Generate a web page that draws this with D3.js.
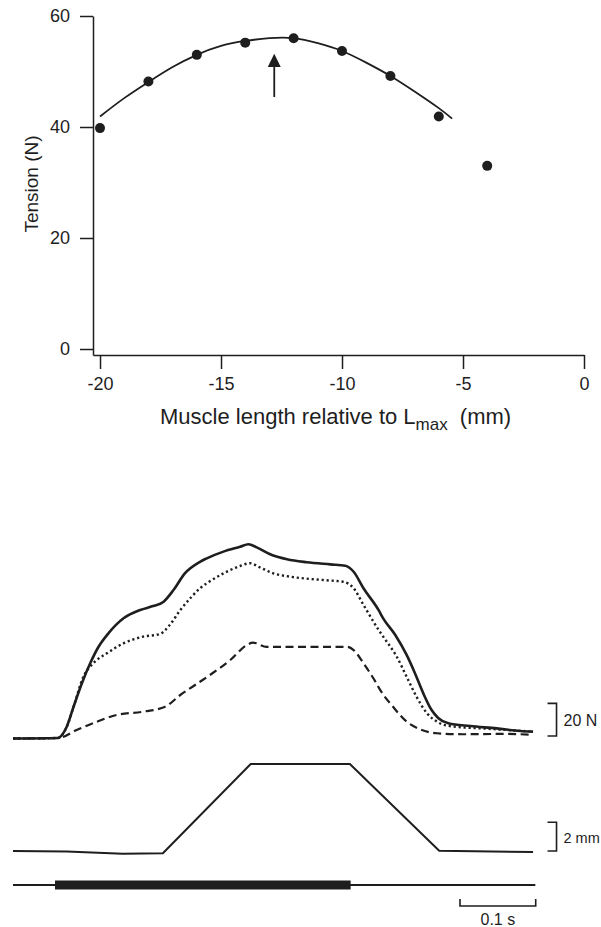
<!DOCTYPE html>
<html>
<head>
<meta charset="utf-8">
<script src="https://cdn.jsdelivr.net/npm/d3@7"></script>
<style>
  body { margin: 0; background: #fff; }
  svg { display: block; font-family: "Liberation Sans", Arial, sans-serif; }
</style>
</head>
<body>
<svg id="chart" width="601" height="927"></svg>
<script>
// top panel: length-tension points (mm, N)
var lengthPts = [-20, -18, -16, -14, -12, -10, -8, -6, -4];
var tensionPts = [39.8, 48.2, 53.0, 55.2, 56.0, 53.7, 49.2, 41.9, 33.0];
// fitted curve
var fitX = [-20, -19, -18, -17, -16, -15, -14, -13, -12, -11, -10, -9, -8, -7, -6, -5.45];
var fitY = [41.9, 45.2, 48.1, 50.8, 53.0, 54.6, 55.5, 56.0, 56.0, 55.1, 53.7, 51.6, 49.2, 46.4, 43.4, 41.5];
var optimumLength = -12.8;
var xTicks = [-20, -15, -10, -5, 0];
var yTicks = [0, 20, 40, 60];

// bottom panel: time in ms, force in N above resting level
var solidT = [0, 59, 71, 80, 91, 102, 113, 126, 146, 168, 185, 199, 212, 227, 247, 256, 278, 300, 311, 322, 342, 362, 388, 419, 439, 450, 463, 483, 489, 505, 520, 531, 542, 553, 562, 575, 604, 639, 670, 687];
var solidF = [0, 0.3, 7.2, 19.4, 33.8, 46.0, 56.1, 64.3, 73.5, 78.6, 81.0, 83.7, 90.8, 101.0, 108.1, 110.2, 114.3, 117.3, 118.8, 116.9, 112.2, 109.6, 107.8, 106.5, 105.7, 102.0, 91.9, 78.5, 73.5, 63.3, 51.1, 39.9, 27.6, 17.4, 12.4, 9.3, 7.6, 6.2, 4.6, 4.2];
var dottedT = [0, 59, 71, 80, 93, 106, 124, 146, 172, 194, 207, 221, 236, 247, 256, 278, 300, 313, 326, 344, 366, 410, 436, 450, 463, 483, 489, 507, 520, 533, 547, 560, 577, 626, 687];
var dottedF = [0, 0.3, 7.2, 19.4, 37.8, 46.0, 52.1, 58.2, 62.3, 63.9, 69.4, 78.6, 86.7, 91.9, 94.9, 101.0, 105.5, 107.2, 104.7, 101.0, 99.0, 96.9, 95.9, 91.9, 81.7, 66.4, 62.3, 50.0, 37.8, 25.6, 15.4, 10.3, 7.6, 6.0, 4.2];
var dashedT = [0, 60, 84, 111, 137, 172, 201, 221, 247, 260, 287, 309, 317, 335, 388, 441, 450, 463, 480, 485, 502, 520, 538, 560, 595, 648, 687];
var dashedF = [0, 0.3, 5.2, 10.3, 14.4, 16.4, 19.4, 26.6, 34.7, 38.8, 48.0, 57.2, 58.6, 56.1, 56.1, 56.1, 54.1, 46.0, 33.8, 29.7, 19.4, 10.3, 5.6, 3.2, 2.6, 2.8, 2.3];
// muscle length change (mm)
var lenT = [0, 71, 145, 198, 314, 445, 563, 687];
var lenMM = [0, -0.03, -0.19, -0.16, 6.06, 6.06, 0.02, -0.07];
// stimulation period (ms)
var stimOn = 55.5, stimOff = 446, traceEnd = 690;

var ink = "#1e1e1e";
var svg = d3.select("#chart");

// ---------- top panel ----------
var x = d3.scaleLinear().domain([-20.29, 0]).range([93, 584]);
var y = d3.scaleLinear().domain([-1.08, 60]).range([355, 16]);

var topPanel = svg.append("g");

function styleAxis(g) {
  g.attr("font-family", null).attr("font-size", null);
  g.selectAll("text").attr("font-size", 18).attr("fill", ink);
  g.selectAll("line,path").attr("stroke", ink).attr("stroke-width", 1.5);
}

topPanel.append("g")
  .attr("transform", "translate(0,355)")
  .call(d3.axisBottom(x).tickValues(xTicks).tickFormat(function(d) { return String(d); })
    .tickSize(14).tickSizeOuter(0).tickPadding(8))
  .call(styleAxis);

topPanel.append("g")
  .attr("transform", "translate(93,0)")
  .call(d3.axisLeft(y).tickValues(yTicks).tickSize(13).tickSizeOuter(0).tickPadding(10))
  .call(styleAxis);

var fitData = fitX.map(function(d, i) { return [d, fitY[i]]; });
topPanel.append("path")
  .datum(fitData)
  .attr("fill", "none")
  .attr("stroke", ink)
  .attr("stroke-width", 1.8)
  .attr("d", d3.line()
    .x(function(d) { return x(d[0]); })
    .y(function(d) { return y(d[1]); })
    .curve(d3.curveNatural));

topPanel.selectAll("circle.pt")
  .data(lengthPts)
  .enter().append("circle")
  .attr("class", "pt")
  .attr("cx", function(d) { return x(d); })
  .attr("cy", function(d, i) { return y(tensionPts[i]); })
  .attr("r", 5)
  .attr("fill", ink);

// arrow at optimum length
var ax = x(optimumLength);
topPanel.append("line")
  .attr("x1", ax).attr("x2", ax)
  .attr("y1", y(45.4)).attr("y2", y(50.8))
  .attr("stroke", ink).attr("stroke-width", 1.8);
topPanel.append("path")
  .attr("d", "M" + ax + "," + y(53.2) + "L" + (ax - 6.5) + "," + y(50.8) + "L" + (ax + 6.5) + "," + y(50.8) + "Z")
  .attr("fill", ink);

topPanel.append("text")
  .attr("transform", "translate(38,184) rotate(-90)")
  .attr("text-anchor", "middle")
  .attr("font-size", 19)
  .attr("fill", ink)
  .text("Tension (N)");

var xl = topPanel.append("text")
  .attr("x", 160).attr("y", 424)
  .attr("font-size", 22)
  .attr("fill", ink);
xl.append("tspan").text("Muscle length relative to L");
xl.append("tspan").attr("font-size", 17).attr("dy", 6).text("max");
xl.append("tspan").attr("dy", -6).attr("dx", 6).text(" (mm)");

// ---------- bottom panel ----------
var t = d3.scaleLinear().domain([0, 100]).range([13, 88.7]);
var f = d3.scaleLinear().domain([0, 20]).range([738.5, 705.8]);
var len = d3.scaleLinear().domain([0, 2]).range([851, 822.3]);

var bot = svg.append("g");

var forceLine = d3.line()
  .x(function(d) { return t(d[0]); })
  .y(function(d) { return f(d[1]); })
  .curve(d3.curveMonotoneX);

function pairs(a, b) { return a.map(function(d, i) { return [d, b[i]]; }); }

bot.append("path")
  .datum(pairs(dashedT, dashedF))
  .attr("fill", "none").attr("stroke", ink).attr("stroke-width", 2.2)
  .attr("stroke-dasharray", "8,4.5")
  .attr("d", forceLine);

bot.append("path")
  .datum(pairs(dottedT, dottedF))
  .attr("fill", "none").attr("stroke", ink).attr("stroke-width", 2.4)
  .attr("stroke-dasharray", "2.2,2.8")
  .attr("d", forceLine);

bot.append("path")
  .datum(pairs(solidT, solidF))
  .attr("fill", "none").attr("stroke", ink).attr("stroke-width", 2.6)
  .attr("d", forceLine);

bot.append("path")
  .datum(pairs(lenT, lenMM))
  .attr("fill", "none").attr("stroke", ink).attr("stroke-width", 2)
  .attr("d", d3.line()
    .x(function(d) { return t(d[0]); })
    .y(function(d) { return len(d[1]); }));

// stimulus marker
var stimY = 885;
bot.append("line")
  .attr("x1", t(0)).attr("x2", t(traceEnd))
  .attr("y1", stimY).attr("y2", stimY)
  .attr("stroke", ink).attr("stroke-width", 2);
bot.append("rect")
  .attr("x", t(stimOn)).attr("width", t(stimOff) - t(stimOn))
  .attr("y", stimY - 4.5).attr("height", 9)
  .attr("fill", ink);

// scale bars
function vBracket(xPos, y0, y1, label, size) {
  bot.append("path")
    .attr("d", "M" + (xPos - 9) + "," + y0 + "H" + xPos + "V" + y1 + "H" + (xPos - 9))
    .attr("fill", "none").attr("stroke", ink).attr("stroke-width", 1.6);
  bot.append("text")
    .attr("x", xPos + 7).attr("y", (y0 + y1) / 2 + 6)
    .attr("font-size", size).attr("fill", ink)
    .text(label);
}
vBracket(t(718), f(1.5), f(21.5), "20 N", 16);
vBracket(t(718), len(0), len(2), "2 mm", 14.5);

var sbY = 906;
bot.append("path")
  .attr("d", "M" + t(590.5) + "," + (sbY - 7) + "V" + sbY + "H" + t(690.5) + "V" + (sbY - 7))
  .attr("fill", "none").attr("stroke", ink).attr("stroke-width", 1.6);
bot.append("text")
  .attr("x", (t(590.5) + t(690.5)) / 2).attr("y", 925)
  .attr("text-anchor", "middle")
  .attr("font-size", 16).attr("fill", ink)
  .text("0.1 s");
</script>
</body>
</html>
